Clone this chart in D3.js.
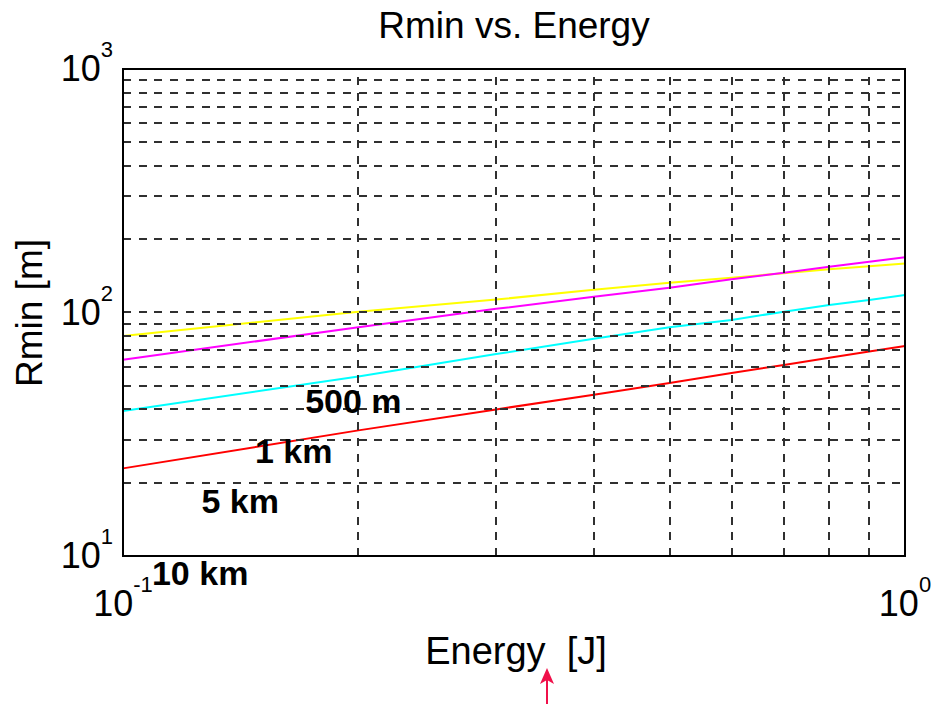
<!DOCTYPE html>
<html>
<head>
<meta charset="utf-8">
<script src="https://cdn.jsdelivr.net/npm/d3@7"></script>
<style>
  html, body { margin: 0; padding: 0; background: #fff; }
  svg { display: block; font-family: Arial, "Liberation Sans", Helvetica, sans-serif; }
</style>
</head>
<body>
<svg id="chart" width="933" height="704"></svg>
<script>
// ---- data ----
const energy = [0.1, 0.2, 0.3, 0.4, 0.5, 0.6, 0.7, 0.8, 0.9, 1.0];
const rminYellow  = [80, 100.8, 113, 124, 132.5, 139, 145, 150.5, 155, 159];
const rminMagenta = [64, 87, 103.5, 116, 126.5, 137, 145.5, 154, 161.5, 168.5];
const rminCyan    = [39.4, 54.6, 67.5, 78, 87, 93.2, 100.8, 107.3, 112.5, 118];
const rminRed     = [22.9, 32.8, 40, 45.9, 51.3, 56.4, 60.9, 65.2, 69.1, 72.8];
const seriesColors = ["#ffff00", "#ff00ff", "#00ffff", "#ff0000"];

const xTickValues = [0.1, 1];
const xTickExponents = ["-1", "0"];
const yTickValues = [10, 100, 1000];
const yTickExponents = ["1", "2", "3"];

const labelTexts = ["500 m", "1 km", "5 km", "10 km"];
const labelEnergy = [0.171, 0.1475, 0.126, 0.1089];
const labelRmin = [38.7, 24.1, 15.0, 7.6];

const titleText = "Rmin vs. Energy";
const xLabelText = "Energy  [J]";
const yLabelText = "Rmin [m]";

// ---- layout ----
const svg = d3.select("#chart");
const pLeft = 123, pRight = 905, pTop = 69, pBottom = 556;

const x = d3.scaleLog().domain([0.1, 1]).range([pLeft, pRight]);
const y = d3.scaleLog().domain([10, 1000]).range([pBottom, pTop]);

// ---- series lines ----
const series = [rminYellow, rminMagenta, rminCyan, rminRed];
const line = d3.line().x(d => x(d[0])).y(d => y(d[1]));
series.forEach((vals, i) => {
  svg.append("path")
    .datum(energy.map((e, j) => [e, vals[j]]))
    .attr("d", line)
    .attr("fill", "none")
    .attr("stroke", seriesColors[i])
    .attr("stroke-width", 2);
});

// ---- grid (drawn on top, like the reference) ----
const grid = svg.append("g")
  .attr("stroke", "#303030")
  .attr("stroke-width", 2)
  .attr("stroke-dasharray", "8,7.7")
  .attr("shape-rendering", "crispEdges");

y.ticks().filter(v => v > 10 && v < 1000).forEach(v => {
  grid.append("line")
    .attr("x1", pLeft).attr("x2", pRight)
    .attr("y1", Math.round(y(v))).attr("y2", Math.round(y(v)));
});
x.ticks().filter(v => v > 0.1 + 1e-9 && v < 1 - 1e-9).forEach(v => {
  grid.append("line")
    .attr("x1", Math.round(x(v))).attr("x2", Math.round(x(v)))
    .attr("y1", pBottom).attr("y2", pTop);
});

// ---- box ----
svg.append("rect")
  .attr("x", pLeft).attr("y", pTop)
  .attr("width", pRight - pLeft).attr("height", pBottom - pTop)
  .attr("fill", "none")
  .attr("stroke", "#000")
  .attr("stroke-width", 2);

// ---- tick labels ----
xTickValues.forEach((v, i) => {
  const t = svg.append("text")
    .attr("x", x(v))
    .attr("y", pBottom + 60)
    .attr("text-anchor", "middle")
    .attr("font-size", 36)
    .attr("fill", "#000");
  t.append("tspan").text("10");
  t.append("tspan").attr("font-size", 22).attr("dy", -24).text(xTickExponents[i]);
});

yTickValues.forEach((v, i) => {
  const t = svg.append("text")
    .attr("x", pLeft - 10)
    .attr("y", y(v) + 12)
    .attr("text-anchor", "end")
    .attr("font-size", 36)
    .attr("fill", "#000");
  t.append("tspan").text("10");
  t.append("tspan").attr("font-size", 22).attr("dy", -24).text(yTickExponents[i]);
});

// ---- title & axis labels ----
svg.append("text")
  .attr("x", (pLeft + pRight) / 2)
  .attr("y", 38)
  .attr("text-anchor", "middle")
  .attr("font-size", 37)
  .attr("fill", "#000")
  .text(titleText);

svg.append("text")
  .attr("x", 516)
  .attr("y", 664)
  .attr("text-anchor", "middle")
  .attr("font-size", 38)
  .attr("fill", "#000")
  .style("white-space", "pre")
  .text(xLabelText);

svg.append("text")
  .attr("transform", "translate(42,313) rotate(-90)")
  .attr("text-anchor", "middle")
  .attr("font-size", 37)
  .attr("fill", "#000")
  .text(yLabelText);

// ---- range annotations ----
labelTexts.forEach((s, i) => {
  svg.append("text")
    .attr("x", x(labelEnergy[i]))
    .attr("y", y(labelRmin[i]))
    .attr("font-size", 34)
    .attr("font-weight", "bold")
    .attr("fill", "#000")
    .text(s);
});

// ---- red arrow pointer ----
const arrowColor = "#f0104a";
const ax = 547;
svg.append("line")
  .attr("x1", ax).attr("x2", ax)
  .attr("y1", 704).attr("y2", 678)
  .attr("stroke", arrowColor)
  .attr("stroke-width", 2);
svg.append("path")
  .attr("d", d3.line()([[ax, 668], [ax - 7, 684], [ax, 680], [ax + 7, 684]]) + "Z")
  .attr("fill", arrowColor);
</script>
</body>
</html>
